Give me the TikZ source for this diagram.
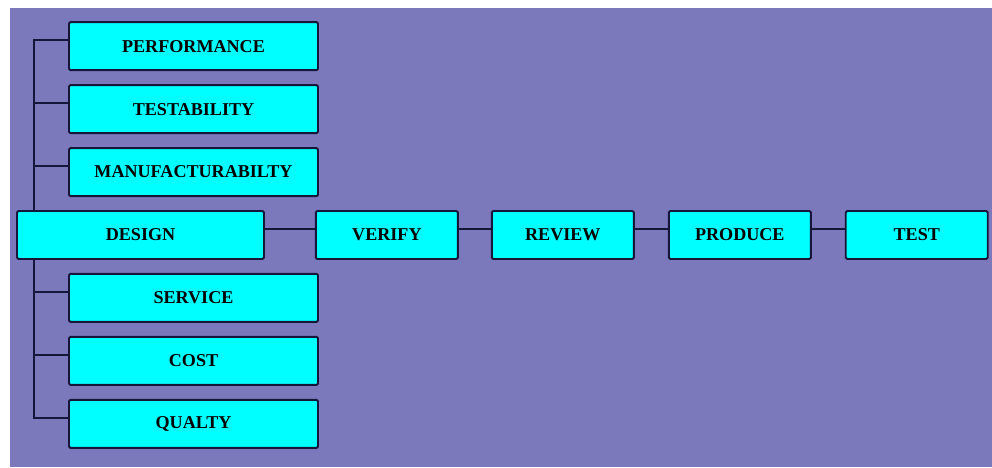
\documentclass[tikz,border=0pt]{standalone}
\usepackage{fontspec}
\setmainfont{Liberation Serif}
\usepackage{xcolor}
\usepackage{tikz}
\usetikzlibrary{positioning}

\definecolor{bgpurple}{RGB}{123,121,187}
\definecolor{boxcyan}{RGB}{0,255,255}
\definecolor{edgenavy}{RGB}{22,22,58}

\begin{document}
\begin{tikzpicture}[
    factor/.style={rectangle, draw=edgenavy, line width=1.1pt, fill=boxcyan, rounded corners=0.8pt, minimum width=4.98cm, minimum height=0.96cm, font=\fontsize{10.3}{12}\selectfont\bfseries},
    stage/.style={factor, minimum width=2.84cm},
    link/.style={draw=edgenavy, line width=1.1pt}
]

% Background
\useasboundingbox (0,0) rectangle (19.84,9.34);
\fill[bgpurple] (0.2,0) rectangle (19.84,9.18);

% Process row
\node[factor, minimum width=4.94cm] (design) at (2.81,4.64) {DESIGN};
\node[stage, right=1.0cm of design] (verify) {VERIFY};
\node[stage, right=0.64cm of verify] (review) {REVIEW};
\node[stage, right=0.66cm of review] (produce) {PRODUCE};
\node[stage, right=0.66cm of produce] (test) {TEST};

% Design factors
\node[factor, above=0.26cm of design, xshift=1.06cm] (manuf) {MANUFACTURABILTY};
\node[factor, above=0.26cm of manuf] (testab) {TESTABILITY};
\node[factor, above=0.26cm of testab] (perf) {PERFORMANCE};
\node[factor, below=0.26cm of design, xshift=1.06cm] (service) {SERVICE};
\node[factor, below=0.26cm of service] (cost) {COST};
\node[factor, below=0.26cm of cost] (quality) {QUALTY};

% Connectors
\coordinate (spine) at ([xshift=0.36cm]design.west);
\draw[link] ([yshift=0.12cm]perf.west) -| (spine |- design.north);
\draw[link] ([yshift=0.12cm]quality.west) -| (spine |- design.south);
\foreach \n in {testab,manuf,service,cost}
    \draw[link] ([yshift=0.12cm]\n.west) -- ([yshift=0.12cm]\n.west -| spine);
\draw[link] ([yshift=0.12cm]design.east) -- ([yshift=0.12cm]verify.west);
\draw[link] ([yshift=0.12cm]verify.east) -- ([yshift=0.12cm]review.west);
\draw[link] ([yshift=0.12cm]review.east) -- ([yshift=0.12cm]produce.west);
\draw[link] ([yshift=0.12cm]produce.east) -- ([yshift=0.12cm]test.west);

\end{tikzpicture}
\end{document}
